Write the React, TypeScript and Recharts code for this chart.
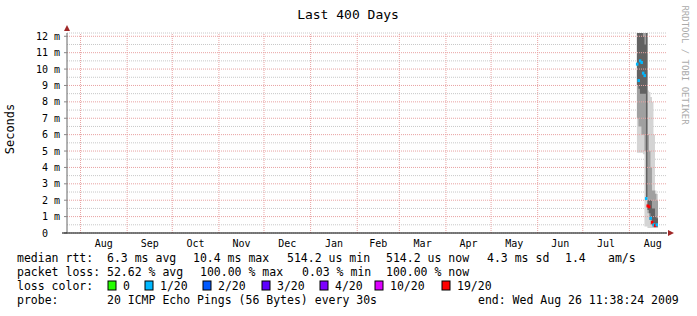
import { ComposedChart, Area, Scatter, XAxis, YAxis, CartesianGrid, ReferenceLine } from "recharts";

// x values are days counted from 22 Jul 2008 00:00
const monthStarts = [10, 41, 71, 102, 132, 163, 194, 222, 253, 283, 314, 344, 375];
const monthLengths = [31, 30, 31, 30, 31, 31, 28, 31, 30, 31, 30, 31, 31];
const monthNames = ["Aug", "Sep", "Oct", "Nov", "Dec", "Jan", "Feb", "Mar", "Apr", "May", "Jun", "Jul", "Aug"];

const yTicks = [0, 1, 2, 3, 4, 5, 6, 7, 8, 9, 10, 11, 12];
const minorTicks = [0.5, 1.5, 2.5, 3.5, 4.5, 5.5, 6.5, 7.5, 8.5, 9.5, 10.5, 11.5];

// rtt in ms
const days = [380, 381, 382, 383, 384, 385, 386, 387, 388, 389, 390, 391, 392, 393, 394];
const outerLow = [4.9, 4.9, 4.9, 4.9, 4.8, 0.4, 0.4, 0.3, 0.3, 0.3, 0.3, 0.3, 0.3, 0.3, 0.3];
const outerHigh = [14, 14, 14, 14, 14, 14, 14, 8.7, 8.6, 8.3, 8.0, 6.0, 2.6, 2.4, 2.2];
const midLow = [7.0, 6.5, 6.5, 6.0, 6.0, 5.0, 2.2, 1.2, 0.8, 0.5, 0.4, 0.35, 0.35, 0.35, 0.35];
const midHigh = [14, 14, 14, 14, 14, 14, 14, 6.0, 5.0, 4.0, 2.6, 2.6, 2.4, 2.0, 1.8];
const innerLow = [9.0, 8.8, 8.5, 8.5, 8.5, 8.5, 2.2, 1.4, 1.2, 0.8, 0.5, 0.4, 0.4, 0.4, 0.4];
const innerHigh = [12.5, 12.5, 12.5, 12.2, 12.0, 11.5, 14, 2.0, 2.0, 2.0, 1.5, 1.5, 1.0, 0.9, 0.8];
const median = [10.3, 9.3, 10.5, 10.4, 9.75, 9.6, 2.1, 1.65, 1.6, 0.9, 0.65, 0.5, 0.45, 0.5, null];
const lostPings = [1, 1, 1, 1, 1, 1, 1, 19, 19, 1, 19, 1, 19, 1, null];

const lossSteps = [0, 1, 2, 3, 4, 10, 19];
const lossLabels = ["0", "1/20", "2/20", "3/20", "4/20", "10/20", "19/20"];
const lossColors = ["#26ff00", "#00b8ff", "#0059ff", "#5e00ff", "#7e00ff", "#dd00ff", "#ff0000"];
const legendBoxX = [108, 145, 203, 262, 320, 375, 442];

const rows = days.map((day, i) => ({
  day,
  outer: [outerLow[i], outerHigh[i]],
  mid: [midLow[i], midHigh[i]],
  inner: [innerLow[i], innerHigh[i]],
}));

const medians = days
  .map((day, i) => ({
    day,
    median: median[i],
    color: lostPings[i] == null ? "#000" : lossColors[lossSteps.indexOf(lostPings[i] as number)],
  }))
  .filter((d) => d.median != null);

const labelDays = monthStarts.map((s, i) => s + monthLengths[i] / 2);

const mono = "DejaVu Sans Mono, monospace";
const majorGrid = "#e8a2a2";

function YTick(props: any) {
  const { x, y, payload } = props;
  return (
    <g fontFamily={mono} fontSize={10} fill="#000">
      <text x={x - 16} y={y + 3.5} textAnchor="end">
        {payload.value}
      </text>
      {payload.value !== 0 && (
        <text x={x - 10} y={y + 3.5}>
          m
        </text>
      )}
    </g>
  );
}

function XTick(props: any) {
  const { x, y, index } = props;
  return (
    <text x={x} y={y + 14} textAnchor="middle" fontFamily={mono} fontSize={10} fill="#000">
      {monthNames[index]}
    </text>
  );
}

function MedianMark(props: any) {
  const { cx, cy, payload } = props;
  return <rect x={cx - 1} y={cy - 1.5} width={2.5} height={3} fill={payload.color} />;
}

export default function App() {
  return (
    <div style={{ position: "absolute", left: 0, top: 0, width: 697, height: 316, background: "#fff" }}>
      <ComposedChart width={697} height={316} data={rows} margin={{ top: 33, right: 30, bottom: 63, left: 0 }}>
        <CartesianGrid yAxisId="minor" vertical={false} stroke="#c8c8c8" strokeDasharray="1 1" />
        <XAxis
          dataKey="day"
          type="number"
          domain={[1, 400]}
          allowDataOverflow
          ticks={labelDays}
          interval={0}
          tickLine={false}
          tickSize={0}
          tickMargin={0}
          height={20}
          axisLine={{ stroke: "#000" }}
          tick={<XTick />}
        />
        <YAxis
          type="number"
          domain={[0, 12.2]}
          allowDataOverflow
          ticks={yTicks}
          interval={0}
          width={67}
          tickSize={3}
          tickMargin={0}
          tickLine={{ stroke: "#888" }}
          axisLine={{ stroke: "#666" }}
          tick={<YTick />}
        />
        <YAxis yAxisId="minor" type="number" domain={[0, 12.2]} allowDataOverflow ticks={minorTicks} interval={0} hide />
        {yTicks.slice(1).map((v) => (
          <ReferenceLine key={"h" + v} y={v} stroke={majorGrid} strokeDasharray="1 1" />
        ))}
        {monthStarts.map((d) => (
          <ReferenceLine key={"v" + d} x={d} stroke={majorGrid} strokeDasharray="1 1" />
        ))}
        <Area type="stepAfter" dataKey="outer" stroke="none" fill="#d4d4d4" fillOpacity={1} isAnimationActive={false} />
        <Area type="stepAfter" dataKey="mid" stroke="none" fill="#a0a0a0" fillOpacity={1} isAnimationActive={false} />
        <Area type="stepAfter" dataKey="inner" stroke="none" fill="#626262" fillOpacity={1} isAnimationActive={false} />
        <Scatter data={medians} dataKey="median" shape={<MedianMark />} isAnimationActive={false} />
      </ComposedChart>

      <svg
        width={697}
        height={316}
        style={{ position: "absolute", left: 0, top: 0, pointerEvents: "none" }}
        fontFamily={mono}
      >
        <text x={348} y={18.5} textAnchor="middle" fontSize={13} fill="#000">
          Last 400 Days
        </text>
        <text transform="translate(14,129) rotate(-90)" textAnchor="middle" fontSize={12} fill="#000">
          Seconds
        </text>
        <text transform="translate(682,65) rotate(90)" textAnchor="middle" fontSize={9} fill="#aaa">
          RRDTOOL / TOBI OETIKER
        </text>
        <polygon points="64,31 70,31 67,25" fill="#a02828" />
        <polygon points="668,230 668,236 674,233" fill="#a02828" />
        <line x1={62} y1={233} x2={67} y2={233} stroke="#000" />

        <g fontSize={11.5} fill="#000" style={{ whiteSpace: "pre" }}>
          <text y={262}>
            <tspan x={17}>median rtt:</tspan>
            <tspan x={107}>6.3 ms avg</tspan>
            <tspan x={193}>10.4 ms max</tspan>
            <tspan x={287}>514.2 us min</tspan>
            <tspan x={386}>514.2 us now</tspan>
            <tspan x={487}>4.3 ms sd</tspan>
            <tspan x={565}>1.4</tspan>
            <tspan x={608}>am/s</tspan>
          </text>
          <text y={276}>
            <tspan x={17}>packet loss:</tspan>
            <tspan x={107}>52.62 % avg</tspan>
            <tspan x={200}>100.00 % max</tspan>
            <tspan x={302}>0.03 % min</tspan>
            <tspan x={386}>100.00 % now</tspan>
          </text>
          <text y={290}>
            <tspan x={17}>loss color:</tspan>
          </text>
          {lossLabels.map((l, i) => (
            <g key={l}>
              <rect x={legendBoxX[i]} y={281} width={8} height={9} fill={lossColors[i]} stroke="#000" />
              <text x={legendBoxX[i] + 15} y={290}>
                {l}
              </text>
            </g>
          ))}
          <text y={304}>
            <tspan x={17}>probe:</tspan>
            <tspan x={107}>20 ICMP Echo Pings (56 Bytes) every 30s</tspan>
            <tspan x={478}>end: Wed Aug 26 11:38:24 2009</tspan>
          </text>
        </g>
      </svg>
    </div>
  );
}
